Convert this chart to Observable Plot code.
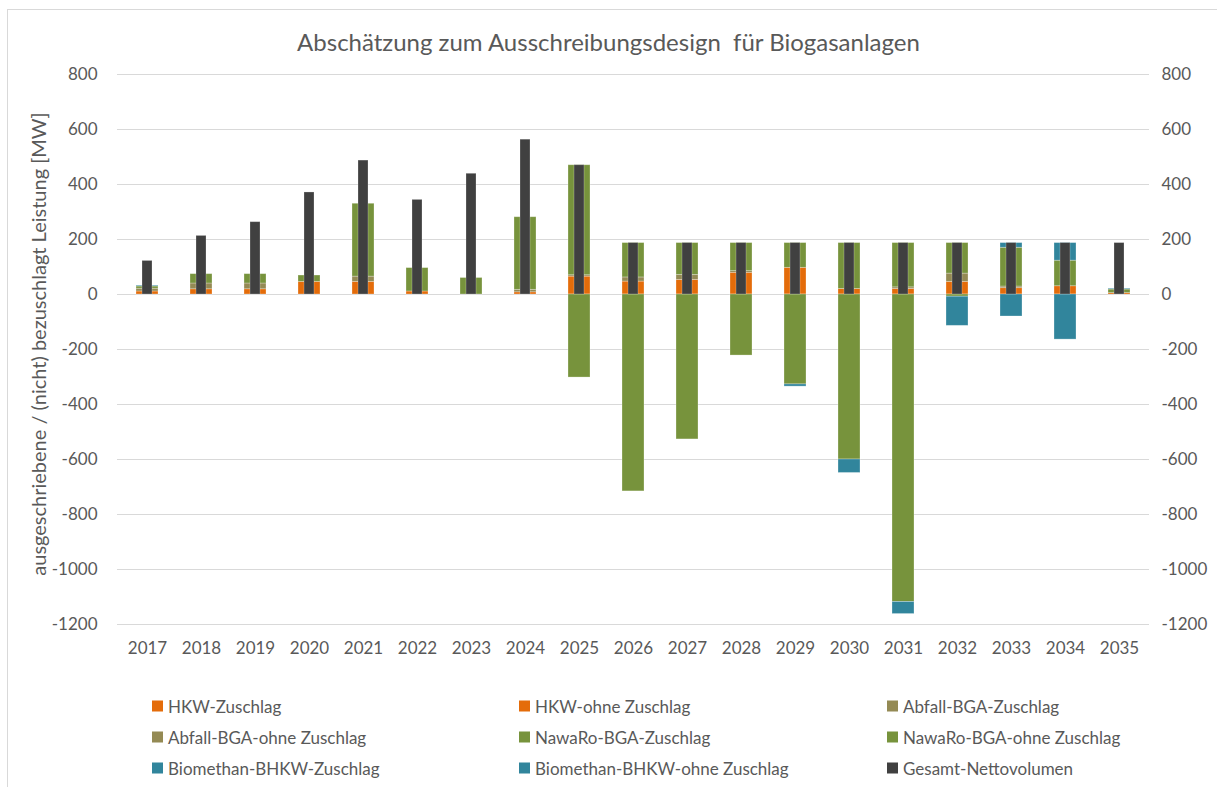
<!DOCTYPE html>
<html><head><meta charset="utf-8">
<script src="https://cdn.jsdelivr.net/npm/d3@7"></script>
<script src="https://cdn.jsdelivr.net/npm/@observablehq/plot@0.6"></script>
<style>
body{margin:0;background:#fff;font-family:Lato,"Open Sans",sans-serif;}
#wrap{position:relative;width:1217px;height:787px;overflow:hidden;background:#fff;}
#frame{position:absolute;left:7px;top:9px;width:1230px;height:800px;border:1px solid #D9D9D9;}
#title{position:absolute;top:27px;left:0;width:1217px;text-align:center;font-size:24px;color:#595959;white-space:pre;}
#ytitle{position:absolute;left:38px;top:344px;transform:translate(-50%,-50%) rotate(-90deg);white-space:nowrap;font-size:20px;color:#595959;}
#chart{position:absolute;left:0;top:0;}
.leg{position:absolute;font-size:17px;color:#595959;display:flex;align-items:center;white-space:nowrap;transform:translateY(-50%);}
.sw{width:11px;height:11px;margin-right:5px;}
</style>
</head><body>
<div id="wrap">
  <div id="frame"></div>
  <div id="title">Abschätzung zum Ausschreibungsdesign  für Biogasanlagen</div>
  <div id="chart"></div>
  <div id="ytitle">ausgeschriebene / (nicht) bezuschlagt Leistung [MW]</div>
  <div id="legend"></div>
</div>
<script>
// ---- data ----
const years = [2017,2018,2019,2020,2021,2022,2023,2024,2025,2026,2027,2028,2029,2030,2031,2032,2033,2034,2035];
const seriesNames = ["HKW-Zuschlag","HKW-ohne Zuschlag","Abfall-BGA-Zuschlag","Abfall-BGA-ohne Zuschlag","NawaRo-BGA-Zuschlag","NawaRo-BGA-ohne Zuschlag","Biomethan-BHKW-Zuschlag","Biomethan-BHKW-ohne Zuschlag","Gesamt-Nettovolumen"];
const seriesColors = ["#E46C0A","#E46C0A","#948A54","#948A54","#77933C","#77933C","#31859C","#31859C","#404040"];
const hkwZuschlag      = [11,19,19,46,46,11,0,8,65,47,53,79,97,20,20,46,23,30,5];
const hkwOhne          = [0,0,0,0,0,0,0,0,0,0,0,0,0,0,0,0,0,0,0];
const abfallZuschlag   = [10,21,21,0,19,0,0,9,5,15,18,6,0,0,6,30,6,0,0];
const abfallOhne       = [0,0,0,0,0,0,0,0,0,0,0,0,0,0,0,0,0,0,0];
const nawaroZuschlag   = [8,34,34,23,265,85,60,264,400,125,116,102,90,167,161,111,141,93,13];
const nawaroOhne       = [0,0,0,0,0,0,0,0,-302,-716,-527,-222,-327,-600,-1118,-8,0,0,0];
const biomethanZuschlag= [3,0,0,0,0,0,0,0,0,0,0,0,0,0,0,0,17,64,3];
const biomethanOhne    = [0,0,0,0,0,0,0,0,0,0,0,0,-8,-49,-44,-106,-80,-164,0];
const gesamt           = [122,213,263,371,487,344,439,563,470,187,187,187,187,187,187,187,187,187,187];
const yTicks = [-1200,-1000,-800,-600,-400,-200,0,200,400,600,800];

// ---- build tables ----
const stackSeries = [hkwZuschlag,hkwOhne,abfallZuschlag,abfallOhne,nawaroZuschlag,nawaroOhne,biomethanZuschlag,biomethanOhne];
const stackRows = [];
stackSeries.forEach((arr, si) => arr.forEach((v, i) => stackRows.push({year: String(years[i]), series: seriesNames[si], value: v})));
const gesamtRows = gesamt.map((v, i) => ({year: String(years[i]), series: seriesNames[8], value: v}));

const plot = Plot.plot({
  width: 1217, height: 670,
  marginTop: 74, marginBottom: 46, marginLeft: 117, marginRight: 68,
  style: {fontFamily: "Lato, 'Open Sans', sans-serif", fontSize: "17px", color: "#595959", background: "transparent", overflow: "visible"},
  x: {domain: years.map(String), padding: 0, label: null},
  y: {domain: [-1200, 800], label: null},
  color: {domain: seriesNames, range: seriesColors},
  marks: [
    Plot.ruleY(yTicks, {stroke: "#D9D9D9", strokeWidth: 1}),
    Plot.axisY(yTicks, {anchor: "left", tickSize: 0, tickPadding: 20, label: null, tickFormat: d => String(d)}),
    Plot.axisY(yTicks, {anchor: "right", tickSize: 0, tickPadding: 12, label: null, tickFormat: d => String(d)}),
    Plot.axisX({tickSize: 0, tickPadding: 17, label: null}),
    Plot.barY(stackRows, Plot.stackY({x: "year", y: "value", fill: "series", insetLeft: 16, insetRight: 16, stroke: "#ffffff", strokeOpacity: 0.35, strokeWidth: 0.8})),
    Plot.barY(gesamtRows, {x: "year", y1: 0, y2: "value", fill: "series", insetLeft: 22, insetRight: 22, stroke: "#ffffff", strokeOpacity: 0.3, strokeWidth: 0.8})
  ]
});
document.getElementById("chart").appendChild(plot);

// ---- legend ----
const legCols = [152, 519, 887];
const legRows = [706, 737, 768];
const legend = document.getElementById("legend");
seriesNames.forEach((name, i) => {
  const d = document.createElement("div");
  d.className = "leg";
  d.style.left = legCols[i % 3] + "px";
  d.style.top = legRows[Math.floor(i / 3)] + "px";
  d.innerHTML = `<span class="sw" style="background:${seriesColors[i]}"></span><span>${name}</span>`;
  legend.appendChild(d);
});
</script>
</body></html>
